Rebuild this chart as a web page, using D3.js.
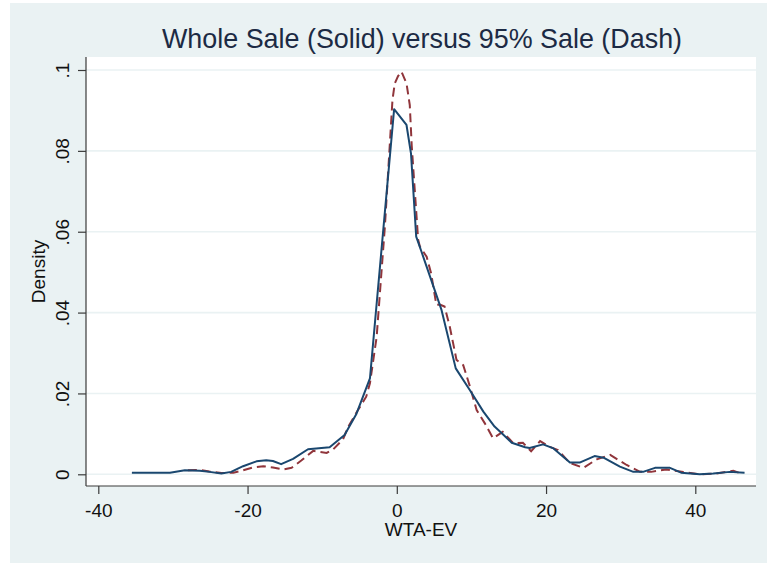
<!DOCTYPE html>
<html>
<head>
<meta charset="utf-8">
<script src="https://cdn.jsdelivr.net/npm/d3@7"></script>
<style>
  body { margin: 0; background: #fff; }
  text { font-family: Arial, "Liberation Sans", sans-serif; }
</style>
</head>
<body>
<div id="chart"></div>
<script>
// values
const titleText = "Whole Sale (Solid) versus 95% Sale (Dash)";
const xTicks = [-40, -20, 0, 20, 40];
const yTicks = [0, 0.02, 0.04, 0.06, 0.08, 0.1];

// Whole sale (solid)
const wholeX = [-35.5, -30.4, -28.4, -26.4, -25.1, -23.5, -22.2, -20.6, -18.8, -17.5, -16.6, -15.5, -13.9, -11.9, -9.0, -7.0, -5.4, -3.6, -0.36, 1.3, 1.9, 2.6, 3.3, 6.0, 7.9, 9.8, 11.6, 13.1, 14.0, 15.4, 17.2, 17.8, 19.6, 21.0, 23.2, 24.5, 26.5, 27.7, 29.9, 31.7, 33.0, 34.6, 36.6, 38.1, 40.6, 42.4, 44.6, 46.6];
const wholeY = [0.0004, 0.0004, 0.001, 0.0009, 0.0006, 0.0002, 0.0006, 0.002, 0.0032, 0.0035, 0.0033, 0.0025, 0.0038, 0.0062, 0.0067, 0.0097, 0.015, 0.0237, 0.0903, 0.0864, 0.0794, 0.0588, 0.0551, 0.0406, 0.0262, 0.0208, 0.0155, 0.0118, 0.0103, 0.0078, 0.0067, 0.0065, 0.0074, 0.0064, 0.0029, 0.0029, 0.0045, 0.0041, 0.0019, 0.0006, 0.0006, 0.0016, 0.0016, 0.0004, 0.0, 0.0002, 0.0006, 0.0004];

// 95% sale (dash)
const partX = [-28.0, -26.4, -25.1, -23.5, -21.9, -20.8, -19.3, -17.9, -16.6, -15.2, -14.1, -12.8, -11.2, -9.4, -8.5, -7.2, -6.5, -5.2, -4.1, -3.6, -2.7, -2.1, -1.6, -0.58, -0.27, 0.17, 0.63, 1.3, 1.74, 2.0, 2.86, 3.1, 4.0, 4.6, 5.3, 5.76, 6.4, 7.1, 8.0, 8.9, 9.8, 10.7, 11.8, 12.9, 14.2, 15.6, 16.9, 18.0, 19.2, 20.5, 21.6, 23.2, 25.0, 26.8, 28.6, 30.8, 32.6, 34.1, 36.1, 38.4, 40.6, 42.8, 45.1, 45.8];
const partY = [0.001, 0.0011, 0.0007, 0.0003, 0.0004, 0.0009, 0.0017, 0.002, 0.0017, 0.0012, 0.0016, 0.0034, 0.0058, 0.0053, 0.0062, 0.0087, 0.0118, 0.0159, 0.0192, 0.0225, 0.034, 0.0489, 0.0612, 0.0926, 0.0967, 0.0985, 0.0996, 0.0967, 0.0913, 0.0813, 0.058, 0.0563, 0.0538, 0.0497, 0.0419, 0.042, 0.0415, 0.0365, 0.0283, 0.027, 0.0217, 0.0159, 0.0126, 0.0089, 0.0105, 0.0077, 0.0078, 0.0057, 0.0082, 0.0068, 0.006, 0.0028, 0.0016, 0.0037, 0.0048, 0.0023, 0.0006, 0.0006, 0.0012, 0.0006, 0.0, 0.0002, 0.0009, 0.0004];

var svgWidth = 767, svgHeight = 563;
// plot region (white)
var plotLeft = 86, plotRight = 756, plotTop = 57, plotBottom = 486;

var svg = d3.select("#chart")
    .append("svg")
    .attr("width", svgWidth)
    .attr("height", svgHeight);

// outer graph region
svg.append("rect")
    .attr("x", 10).attr("y", 3)
    .attr("width", svgWidth - 10).attr("height", svgHeight - 3)
    .attr("fill", "#eaf2f3");

svg.append("rect")
    .attr("x", plotLeft).attr("y", plotTop)
    .attr("width", plotRight - plotLeft).attr("height", plotBottom - plotTop)
    .attr("fill", "#ffffff");

var x = d3.scaleLinear().domain([-40, 40]).range([98.3, 695.3]);
var y = d3.scaleLinear().domain([0, 0.1]).range([474.3, 70]);

// gridlines
svg.append("g")
    .selectAll("line")
    .data(yTicks)
    .join("line")
    .attr("x1", plotLeft).attr("x2", plotRight)
    .attr("y1", d => y(d)).attr("y2", d => y(d))
    .attr("stroke", "#eaf2f3")
    .attr("stroke-width", 1.6);

function stataFmt(d) {
    if (d === 0) return "0";
    return d3.format(".2~f")(d).replace(/^0/, "");
}

// y axis
var yAxis = svg.append("g")
    .attr("transform", `translate(${plotLeft},0)`)
    .call(d3.axisLeft(y).tickValues(yTicks).tickSize(8).tickFormat(stataFmt));
yAxis.select(".domain").attr("d", `M0,${plotTop}V${plotBottom}`);
yAxis.selectAll("text")
    .attr("x", null).attr("dy", null)
    .attr("transform", "translate(-17,0) rotate(-90)")
    .attr("text-anchor", "middle")
    .style("font-size", "19px")
    .attr("fill", "#111");

// x axis
var xAxis = svg.append("g")
    .attr("transform", `translate(0,${plotBottom})`)
    .call(d3.axisBottom(x).tickValues(xTicks).tickSize(8).tickFormat(d3.format("d")));
xAxis.select(".domain").attr("d", `M${plotLeft},0H${plotRight}`);
xAxis.selectAll("text")
    .attr("y", 31).attr("dy", null)
    .style("font-size", "19px")
    .attr("fill", "#111");

svg.selectAll(".domain, .tick line")
    .attr("stroke", "#3a3a3a")
    .attr("stroke-width", 1.2);
svg.selectAll(".tick text").text(function () {
    return d3.select(this).text().replace("\u2212", "-");
});

// curves
var line = d3.line()
    .x(d => x(d[0]))
    .y(d => y(d[1]));

svg.append("path")
    .datum(d3.zip(partX, partY))
    .attr("d", line)
    .attr("fill", "none")
    .attr("stroke", "#90353b")
    .attr("stroke-width", 2)
    .attr("stroke-dasharray", "9,5");

svg.append("path")
    .datum(d3.zip(wholeX, wholeY))
    .attr("d", line)
    .attr("fill", "none")
    .attr("stroke", "#1a476f")
    .attr("stroke-width", 2)
    .attr("stroke-linejoin", "round");

// axis titles
svg.append("text")
    .text("WTA-EV")
    .attr("x", (plotLeft + plotRight) / 2)
    .attr("y", 536)
    .attr("text-anchor", "middle")
    .style("font-size", "19px")
    .attr("fill", "#111");

svg.append("text")
    .text("Density")
    .attr("transform", `translate(45,${(plotTop + plotBottom) / 2}) rotate(-90)`)
    .attr("text-anchor", "middle")
    .style("font-size", "19px")
    .attr("fill", "#111");

// title, fitted to the width it has in the picture
var title = svg.append("text")
    .text(titleText)
    .attr("x", 422)
    .attr("y", 48)
    .attr("text-anchor", "middle")
    .style("font-size", "26px")
    .attr("fill", "#1c2a44");
var tw = title.node().getComputedTextLength();
title.style("font-size", (26 * 521 / tw).toFixed(1) + "px");
</script>
</body>
</html>
